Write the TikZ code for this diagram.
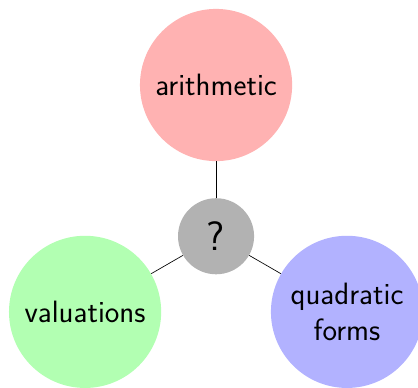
\documentclass[tikz,border=0pt]{standalone}
\usepackage{tikz}
\usetikzlibrary{positioning}
\tikzset{
  topic/.style={circle, minimum size=3.24cm, inner sep=0pt, align=center, font=\sffamily\fontsize{18.7pt}{21.8pt}\selectfont},
  hub/.style={circle, fill=black!30, minimum size=1.62cm, inner sep=0pt, font=\sffamily\Huge},
}
\begin{document}
\begin{tikzpicture}
  \useasboundingbox (-4.6,-3.22) rectangle (4.3,5.03);
  % centre
  \node[hub] (q) at (0,0) {?};
  % topics
  \node[topic, fill=red!30] (arith) at (90:3.22) {arithmetic};
  \node[topic, fill=green!30] (val) at (210:3.22) {valuations};
  \node[topic, fill=blue!30] (quad) at (330:3.22) {quadratic\\forms};
  % links
  \draw (q) -- (arith);
  \draw (q) -- (val);
  \draw (q) -- (quad);
\end{tikzpicture}
\end{document}
